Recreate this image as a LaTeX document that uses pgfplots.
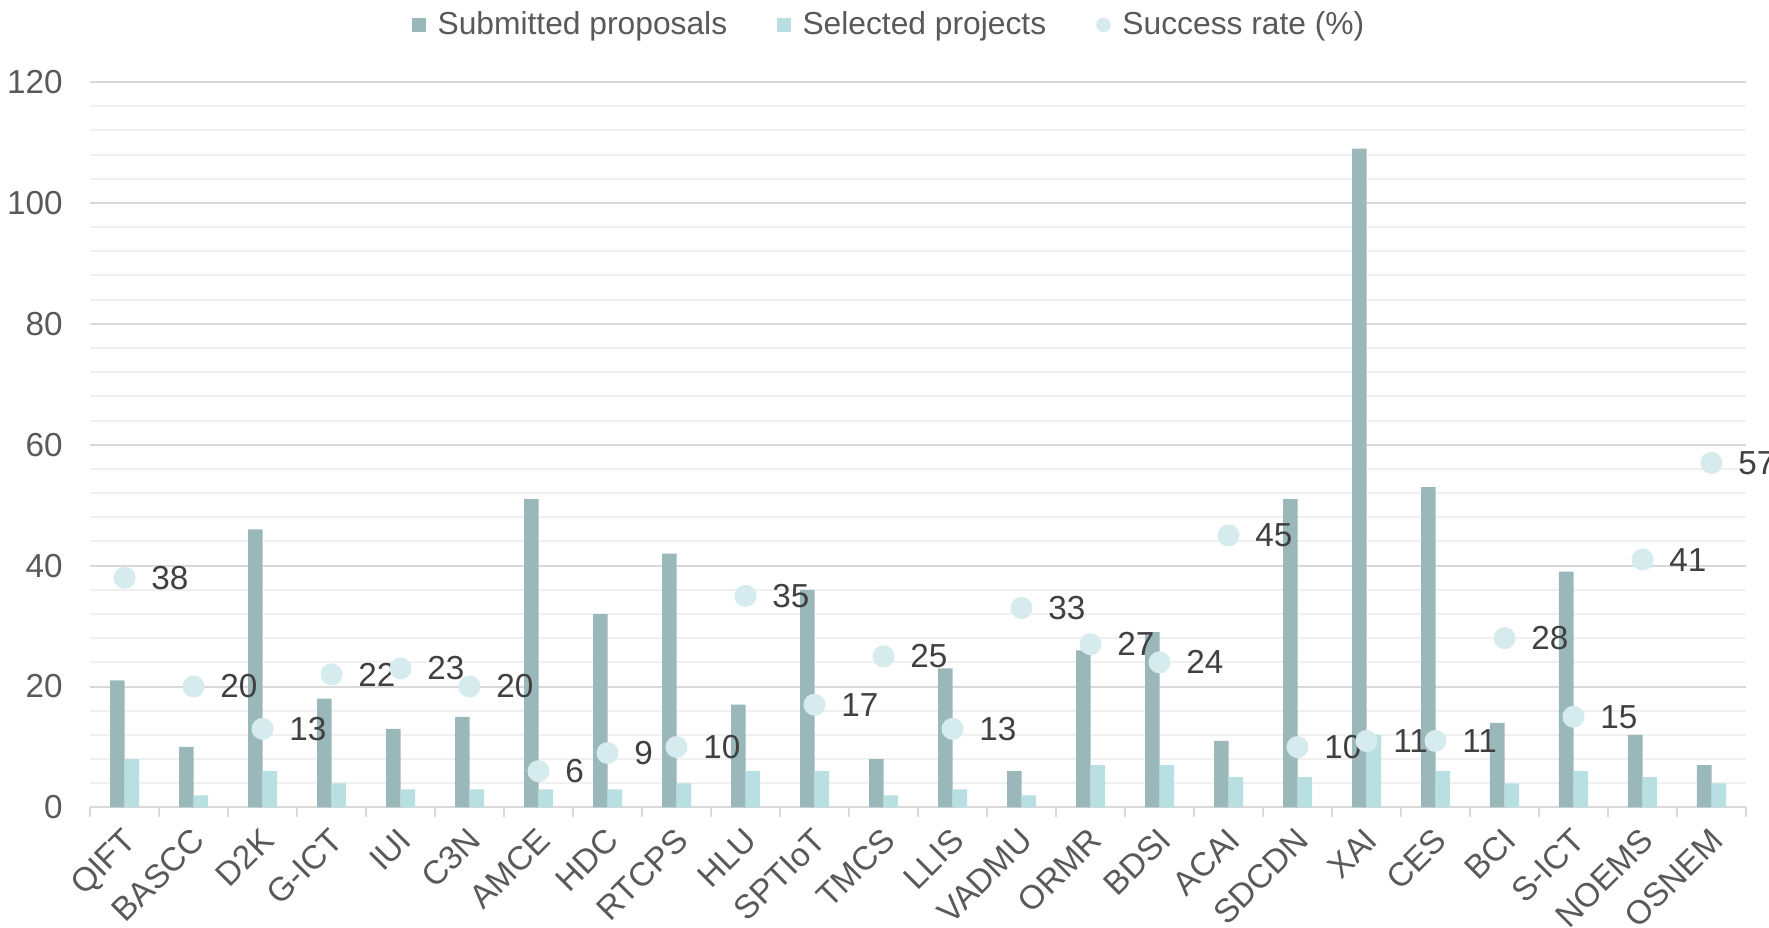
\documentclass[border=0pt]{standalone}
\usepackage{pgfplots}
\pgfplotsset{compat=1.18}
\usepackage{fontspec}
\setmainfont{Liberation Sans}
\definecolor{subm}{HTML}{9AB8BA}
\definecolor{sel}{HTML}{B8DFE2}
\definecolor{rate}{HTML}{D5EBED}
\definecolor{txt}{HTML}{595959}
\definecolor{lbl}{HTML}{404040}
\definecolor{majgrid}{HTML}{D9D9D9}
\definecolor{mingrid}{HTML}{F0F0F0}

% columns: category index, submitted, selected, success rate
\pgfplotstableread{
x sub sel rate
0  21  8 38
1  10  2 20
2  46  6 13
3  18  4 22
4  13  3 23
5  15  3 20
6  51  3 6
7  32  3 9
8  42  4 10
9  17  6 35
10 36  6 17
11  8  2 25
12 23  3 13
13  6  2 33
14 26  7 27
15 29  7 24
16 11  5 45
17 51  5 10
18 109 12 11
19 53  6 11
20 14  4 28
21 39  6 15
22 12  5 41
23  7  4 57
}\projects

\begin{document}
\begin{tikzpicture}[x=1pt,y=1pt]
\begin{axis}[
    name=ax,
    scale only axis,
    width=662pt, height=290pt,
    font=\fontsize{13.3}{15}\selectfont,
    xmin=-0.5, xmax=23.5,
    ymin=0, ymax=120,
    ytick={0,20,...,120},
    minor y tick num=4,
    ymajorgrids, yminorgrids,
    major grid style={majgrid, line width=0.8pt},
    minor grid style={mingrid, line width=0.8pt},
    axis x line*=bottom,
    axis y line*=left,
    y axis line style={draw=none},
    major y tick style={draw=none},
    minor y tick style={draw=none},
    x axis line style={majgrid, line width=0.8pt},
    xtick={0,...,23},
    major x tick style={draw=none},
    minor xtick={-0.5,0.5,...,23.5},
    minor x tick style={majgrid, line width=0.8pt},
    tick align=outside,
    minor tick length=4pt,
    xticklabels={QIFT,BASCC,D2K,G-ICT,IUI,C3N,AMCE,HDC,RTCPS,HLU,SPTIoT,TMCS,LLIS,VADMU,ORMR,BDSI,ACAI,SDCDN,XAI,CES,BCI,S-ICT,NOEMS,OSNEM},
    xticklabel style={xshift=-1.3pt, yshift=-3pt, rotate=45, anchor=north east, inner sep=0pt, text=txt},
    yticklabel style={text=txt, inner sep=0pt, xshift=-6.5pt},
    /pgf/number format/assume math mode=true,
    legend columns=3,
    legend style={at={(0.4836,1.0786)}, anchor=center, draw=none, fill=none,
        text=txt, font=\fontsize{12.7}{14}\selectfont,
        /tikz/every odd column/.append style={column sep=2.7pt},
        /tikz/every even column/.append style={column sep=18pt}},
    legend cell align=left,
    legend image code/.code={\fill[#1] (0pt,-2.7pt) rectangle (5.4pt,2.7pt);},
]
\addplot[ybar, bar width=5.8pt, bar shift=-2.9pt, fill=subm, draw=none]
    table[x=x, y=sub] {\projects};
\addlegendentry{Submitted proposals}
\addplot[ybar, bar width=5.8pt, bar shift=2.9pt, fill=sel, draw=none]
    table[x=x, y=sel] {\projects};
\addlegendentry{Selected projects}
\addplot[color=rate, only marks, mark=*, mark size=4.2pt, mark options={fill=rate, draw=rate},
    legend image code/.code={\fill[rate] (2.7pt,0pt) circle (2.7pt);},
    nodes near coords,
    every node near coord/.append style={anchor=west, inner sep=0pt, xshift=10.5pt,
        text=lbl, font=\fontsize{13.3}{15}\selectfont}]
    table[x=x, y=rate] {\projects};
\addlegendentry{Success rate (\%)}
\end{axis}
\pgfresetboundingbox
\path[use as bounding box] ([xshift=-36pt,yshift=-48pt]ax.south west) rectangle ([xshift=9.2pt,yshift=32.8pt]ax.north east);
\end{tikzpicture}
\end{document}
